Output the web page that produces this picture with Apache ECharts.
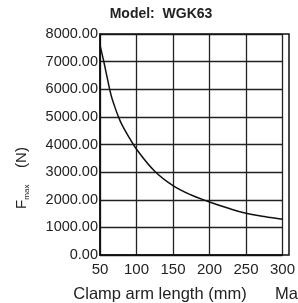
<!DOCTYPE html>
<html>
<head>
<meta charset="utf-8">
<script src="https://cdn.jsdelivr.net/npm/echarts@6/dist/echarts.min.js"></script>
<style>
  html, body { margin: 0; padding: 0; background: #fff; }
  #chart { width: 298px; height: 303px; }
</style>
</head>
<body>
<div id="chart"></div>
<script>
// clamp arm length (mm) vs max clamping force (N)
const armLengths = [50, 55, 60, 65, 70, 75, 80, 90, 100, 125, 150, 175, 200, 225, 250, 275, 300];
const maxForces = [7600, 7030, 6400, 5800, 5380, 5020, 4720, 4250, 3830, 3030, 2510, 2170, 1920, 1700, 1510, 1390, 1290];
const xTicks = [50, 100, 150, 200, 250, 300];
const yTicks = [0, 1000, 2000, 3000, 4000, 5000, 6000, 7000, 8000];

const FONT = '"Liberation Sans", Arial, sans-serif';
const chart = echarts.init(document.getElementById("chart"));

const gridLine = { lineStyle: { color: "#222", width: 1.3 } };

chart.setOption({
  animation: false,
  title: {
    text: "Model:  WGK63",
    left: 156,
    textAlign: "center",
    top: 2,
    textStyle: { fontFamily: FONT, fontSize: 14, fontWeight: "bold", color: "#222" },
  },
  grid: { left: 100, right: 9, top: 34, bottom: 48 },
  xAxis: {
    type: "value",
    min: xTicks[0],
    max: xTicks[xTicks.length - 1],
    interval: 50,
    axisLine: { show: true, onZero: false, lineStyle: { color: "#111", width: 1.5 } },
    axisTick: { show: false },
    splitLine: { show: true, ...gridLine },
    axisLabel: {
      margin: 7,
      fontFamily: FONT,
      fontSize: 15,
      color: "#222",
      showMaxLabel: true,
    },
  },
  yAxis: {
    type: "value",
    min: yTicks[0],
    max: yTicks[yTicks.length - 1],
    interval: 1000,
    axisLine: { show: true, lineStyle: { color: "#111", width: 1.5 } },
    axisTick: { show: false },
    splitLine: { show: true, ...gridLine },
    axisLabel: {
      margin: 2,
      fontFamily: FONT,
      fontSize: 14.5,
      color: "#222",
      formatter: (v) => v.toFixed(2),
    },
  },
  graphic: [
    {
      type: "rect",
      shape: { x: 100, y: 34, width: 189, height: 221 },
      style: { fill: "none", stroke: "#111", lineWidth: 1.5 },
      silent: true,
      z: 10,
    },
    {
      type: "text",
      x: 22,
      y: 178,
      rotation: Math.PI / 2,
      style: {
        text: "{f|F}{s|max}{n|    (N)}",
        align: "center",
        verticalAlign: "middle",
        fill: "#222",
        rich: {
          f: { fontFamily: FONT, fontSize: 15, lineHeight: 18, verticalAlign: "middle" },
          s: { fontFamily: FONT, fontSize: 8, lineHeight: 18, verticalAlign: "bottom", padding: [6, 0, 0, 0] },
          n: { fontFamily: FONT, fontSize: 15, lineHeight: 18, verticalAlign: "middle" },
        },
      },
    },
    {
      type: "text",
      x: 160,
      y: 294,
      style: {
        text: "Clamp arm length (mm)",
        align: "center",
        verticalAlign: "middle",
        fontFamily: FONT,
        fontSize: 16.5,
        fill: "#222",
      },
    },
    {
      type: "text",
      x: 275,
      y: 294,
      style: {
        text: "Max. clamping force",
        align: "left",
        verticalAlign: "middle",
        fontFamily: FONT,
        fontSize: 16.5,
        fill: "#222",
      },
    },
  ],
  series: [
    {
      type: "line",
      data: armLengths.map((x, i) => [x, maxForces[i]]),
      smooth: 0.4,
      showSymbol: false,
      lineStyle: { color: "#111", width: 1.5 },
      z: 5,
    },
  ],
});
</script>
</body>
</html>
